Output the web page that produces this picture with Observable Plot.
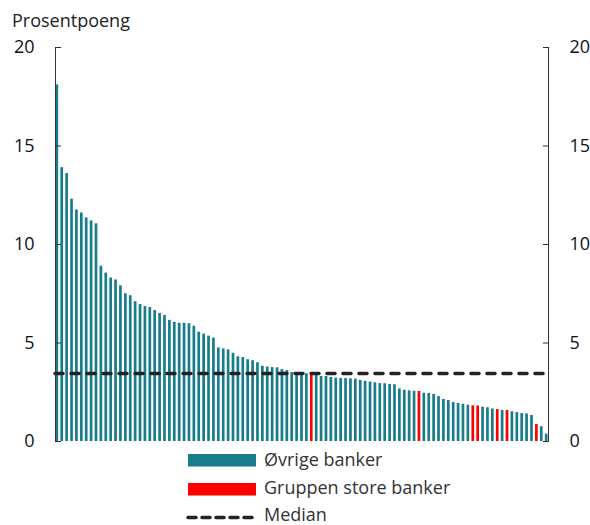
<!DOCTYPE html>
<html>
<head>
<meta charset="utf-8">
<script src="https://cdn.jsdelivr.net/npm/d3@7"></script>
<script src="https://cdn.jsdelivr.net/npm/@observablehq/plot@0.6"></script>
<style>
  html, body { margin: 0; padding: 0; background: #fff; }
  #wrap { position: relative; width: 590px; height: 525px; font-family: "Open Sans", sans-serif; overflow: hidden; }
  #chart { position: absolute; left: 0; top: 0; }
  .title { position: absolute; left: 12px; top: 10px; font-size: 18px; line-height: 20px; color: #222; white-space: nowrap; }
  .lg { position: absolute; left: 0; top: 0; }
  .lgtext { position: absolute; left: 264px; font-size: 18px; color: #333; line-height: 17px; white-space: nowrap; }
</style>
</head>
<body>
<div id="wrap">
  <div id="chart"></div>
  <div class="title">Prosentpoeng</div>
  <svg class="lg" width="590" height="525" id="legend"></svg>
</div>
<script>
// Values per bank, sorted descending (prosentpoeng)
const values = [
  18.1, 13.9, 13.6, 12.3, 11.75, 11.6, 11.35, 11.2, 11.05, 8.9,
  8.55, 8.3, 8.2, 7.9, 7.5, 7.4, 7.1, 6.95, 6.85, 6.8,
  6.65, 6.5, 6.4, 6.15, 6.05, 6.0, 6.0, 5.98, 5.85, 5.55,
  5.45, 5.35, 5.25, 4.75, 4.7, 4.65, 4.48, 4.3, 4.26, 4.15,
  4.1, 4.0, 3.82, 3.78, 3.75, 3.74, 3.65, 3.6, 3.5, 3.47,
  3.45, 3.44, 3.4, 3.35, 3.3, 3.3, 3.25, 3.22, 3.2, 3.2,
  3.18, 3.17, 3.1, 3.05, 3.02, 2.98, 2.94, 2.93, 2.89, 2.88,
  2.67, 2.6, 2.57, 2.55, 2.54, 2.45, 2.44, 2.39, 2.28, 2.13,
  2.08, 1.98, 1.93, 1.89, 1.84, 1.81, 1.8, 1.74, 1.71, 1.65,
  1.62, 1.58, 1.57, 1.51, 1.47, 1.42, 1.4, 1.32, 0.86, 0.75,
  0.37
];
// Positions (1-based) of banks in "Gruppen store banker"
const storeBankerPos = [53, 75, 86, 87, 91, 93, 99];
const groupNames = ["Øvrige banker", "Gruppen store banker"];
const groupColors = ["#177d8c", "#ff0000"];
const medianValue = 3.45;
const yTicks = [0, 5, 10, 15, 20];

const data = values.map((v, i) => ({
  bank: i + 1,
  value: v,
  group: storeBankerPos.includes(i + 1) ? groupNames[1] : groupNames[0]
}));

const plot = Plot.plot({
  width: 590,
  height: 460,
  marginLeft: 55,
  marginRight: 42,
  marginTop: 47,
  marginBottom: 19,
  style: { fontFamily: "Open Sans, sans-serif", fontSize: "18px", color: "#111", background: "transparent" },
  x: { type: "band", domain: data.map(d => d.bank), paddingInner: 0.45, paddingOuter: 0.1, axis: null },
  y: { domain: [0, 20], ticks: yTicks },
  color: { domain: groupNames, range: groupColors },
  marks: [
    Plot.barY(data, { x: "bank", y: "value", fill: "group" }),
    Plot.ruleY([medianValue], { stroke: "#222", strokeWidth: 3.5, strokeDasharray: "8,8", strokeLinecap: "round" }),
    Plot.frame({ anchor: "left", stroke: "#333" }),
    Plot.frame({ anchor: "right", stroke: "#333" }),
    Plot.axisY({ anchor: "left", ticks: yTicks, tickSize: -6, tickPadding: 27, label: null, stroke: "#333", fontSize: 18 }),
    Plot.axisY({ anchor: "right", ticks: yTicks, tickSize: -6, tickPadding: 27, label: null, stroke: "#333", fontSize: 18 })
  ]
});
document.getElementById("chart").appendChild(plot);

// Legend
const lg = d3.select("#legend");
const items = [
  { label: groupNames[0], type: "swatch", color: groupColors[0], y: 454, textTop: 451 },
  { label: groupNames[1], type: "swatch", color: groupColors[1], y: 483, textTop: 479 },
  { label: "Median", type: "dash", color: "#222", y: 511.5, textTop: 506 }
];
items.forEach(it => {
  if (it.type === "swatch") {
    lg.append("rect").attr("x", 188).attr("y", it.y).attr("width", 68).attr("height", 12.5).attr("fill", it.color);
  } else {
    lg.append("line").attr("x1", 188).attr("x2", 256).attr("y1", it.y + 6).attr("y2", it.y + 6)
      .attr("stroke", it.color).attr("stroke-width", 3.5).attr("stroke-linecap", "round")
      .attr("stroke-dasharray", "8,6");
  }
  const t = document.createElement("div");
  t.className = "lgtext";
  t.style.top = it.textTop + "px";
  t.textContent = it.label;
  document.getElementById("wrap").appendChild(t);
});
</script>
</body>
</html>
